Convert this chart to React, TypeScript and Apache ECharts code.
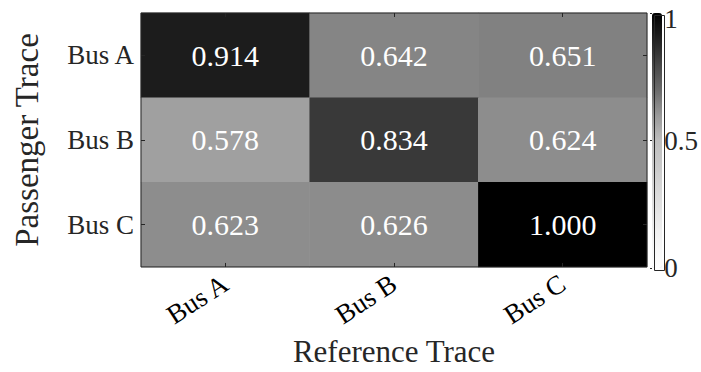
import React, { useEffect, useRef } from "react";
import * as echarts from "echarts";

const referenceBuses = ["Bus A", "Bus B", "Bus C"];
const passengerBuses = ["Bus A", "Bus B", "Bus C"];
// rows = passenger trace, columns = reference trace
const rowBusA = [0.914, 0.642, 0.651];
const rowBusB = [0.578, 0.834, 0.624];
const rowBusC = [0.623, 0.626, 1.0];
const colorbarTicks = [0, 0.5, 1];

const FONT = "'Liberation Serif', 'Times New Roman', Times, serif";
const TXT = "#262626";

export default function App() {
  const ref = useRef<HTMLDivElement>(null);
  useEffect(() => {
    if (!ref.current) return;
    const chart = echarts.init(ref.current, null, { renderer: "svg" });
    const rows = [rowBusA, rowBusB, rowBusC];
    const data: number[][] = [];
    rows.forEach((r, yi) => r.forEach((v, xi) => data.push([xi, yi, v])));

    const gx = 141, gy = 13, gw = 506, gh = 255;
    const cbx = 652, cbw = 10;
    const tick = { show: true, inside: true, length: 4, alignWithLabel: true, lineStyle: { color: TXT } };

    chart.setOption({
      animation: false,
      backgroundColor: "#fff",
      grid: [
        { left: gx, top: gy, width: gw, height: gh, show: true, borderColor: TXT, borderWidth: 1, backgroundColor: "transparent", z: 5 },
        { left: cbx, top: gy, width: cbw, height: gh, show: false },
      ],
      xAxis: [
        {
          type: "category",
          data: referenceBuses,
          gridIndex: 0,
          position: "bottom",
          name: "Reference Trace",
          nameLocation: "middle",
          nameGap: 67,
          nameTextStyle: { fontFamily: FONT, fontSize: 31, color: TXT },
          axisLine: { show: false },
          axisTick: tick,
          axisLabel: { rotate: 33, fontFamily: FONT, fontSize: 27, color: "#000", margin: 14 },
          splitLine: { show: false },
          z: 10,
        },
        {
          type: "category",
          data: referenceBuses,
          gridIndex: 0,
          position: "top",
          axisLine: { show: false },
          axisTick: tick,
          axisLabel: { show: false },
          splitLine: { show: false },
          z: 10,
        },
        { type: "value", gridIndex: 1, show: false, min: 0, max: 1 },
      ],
      yAxis: [
        {
          type: "category",
          data: passengerBuses,
          inverse: true,
          gridIndex: 0,
          position: "left",
          name: "Passenger Trace",
          nameLocation: "middle",
          nameGap: 98,
          nameTextStyle: { fontFamily: FONT, fontSize: 33, color: TXT },
          axisLine: { show: false },
          axisTick: tick,
          axisLabel: { fontFamily: FONT, fontSize: 27, color: TXT, margin: 7 },
          splitLine: { show: false },
          z: 10,
        },
        {
          type: "category",
          data: passengerBuses,
          inverse: true,
          gridIndex: 0,
          position: "right",
          axisLine: { show: false },
          axisTick: tick,
          axisLabel: { show: false },
          splitLine: { show: false },
          z: 10,
        },
        {
          type: "value",
          gridIndex: 1,
          position: "right",
          min: 0,
          max: 1,
          interval: 0.5,
          axisLine: { show: false },
          axisTick: { show: true, inside: true, length: 2, lineStyle: { color: TXT } },
          splitLine: { show: false },
          axisLabel: {
            fontFamily: FONT,
            fontSize: 27,
            color: TXT,
            margin: 4,
            formatter: (v: number) =>
              colorbarTicks.includes(v) ? (v === 1 ? `{top|${v}}` : String(v)) : "",
            rich: { top: { fontFamily: FONT, fontSize: 27, color: TXT, padding: [12, 0, 0, 0] } },
          },
          z: 120,
        },
      ],
      visualMap: {
        type: "continuous",
        min: 0,
        max: 1,
        seriesIndex: 0,
        orient: "vertical",
        left: cbx,
        top: gy,
        itemWidth: cbw,
        itemHeight: gh,
        padding: 0,
        calculable: false,
        showLabel: false,
        text: undefined,
        hoverLink: false,
        borderWidth: 0,
        inRange: {
          color: [
            "#ffffff", "#f5f5f5", "#e8e8e8", "#dadada", "#cacaca", "#bebebe",
            "#989898", "#6a6a6a", "#464646", "#212121", "#000000",
          ],
        },
      },
      graphic: [
        {
          type: "rect",
          left: cbx,
          top: gy,
          shape: { width: cbw, height: gh },
          style: { fill: "none", stroke: TXT, lineWidth: 1 },
          z: 100,
        },
      ],
      series: [
        {
          type: "heatmap",
          xAxisIndex: 0,
          yAxisIndex: 0,
          data,
          label: {
            show: true,
            color: "#ffffff",
            fontFamily: FONT,
            fontSize: 30,
            formatter: (p: any) => p.value[2].toFixed(3),
          },
          emphasis: { disabled: true },
        },
      ],
    });
    return () => chart.dispose();
  }, []);
  return <div ref={ref} style={{ width: 701, height: 372, position: "absolute", left: 0, top: 0 }} />;
}
